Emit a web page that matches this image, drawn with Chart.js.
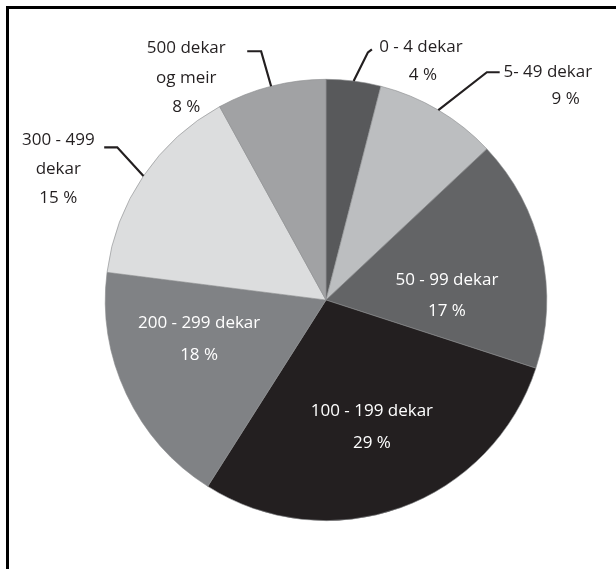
<!DOCTYPE html>
<html>
<head>
<meta charset="utf-8">
<script src="https://cdn.jsdelivr.net/npm/chart.js@4"></script>
<style>
  html, body { margin: 0; padding: 0; background: #fff; }
  #wrap { position: relative; width: 616px; height: 569px; }
  #frame {
    position: absolute; left: 6px; top: 6px; right: 0; bottom: 0;
    border-top: 3px solid #000; border-left: 3px solid #000;
    pointer-events: none;
  }
</style>
</head>
<body>
<div id="wrap">
  <canvas id="pieChart" width="616" height="569"></canvas>
  <div id="frame"></div>
</div>
<script>
const categories = [
  '0 - 4 dekar', '5- 49 dekar', '50 - 99 dekar', '100 - 199 dekar',
  '200 - 299 dekar', ['300 - 499', 'dekar'], ['500 dekar', 'og meir']
];
const shares = [4, 9, 17, 29, 18, 15, 8];
const sliceColors = ['#58595b', '#bcbec0', '#636466', '#231f20', '#808285', '#dcddde', '#a1a2a4'];

// label placement in units of the pie radius, relative to the pie centre
const labelLayout = [
  { inside: false, lines: [[0.430, -1.145], [0.439, -1.018]], leader: [[0.190, -1.122], [0.208, -1.136]] },
  { inside: false, lines: [[1.005, -1.032], [1.086, -0.910]], leader: [[0.729, -1.032], [0.787, -1.032]] },
  { inside: true, lines: [[0.548, -0.090], [0.548, 0.050]] },
  { inside: true, lines: [[0.208, 0.502], [0.208, 0.647]] },
  { inside: true, lines: [[-0.575, 0.104], [-0.575, 0.249]] },
  { inside: false, lines: [[-1.213, -0.724], [-1.213, -0.593], [-1.213, -0.462]], leader: [[-0.946, -0.692], [-1.005, -0.692]] },
  { inside: false, lines: [[-0.633, -1.140], [-0.633, -1.005], [-0.633, -0.873]], leader: [[-0.294, -1.127], [-0.357, -1.127]] }
];

const pieLabels = {
  id: 'pieLabels',
  afterDatasetsDraw(chart) {
    const ctx = chart.ctx;
    const meta = chart.getDatasetMeta(0);
    meta.data.forEach((arc, i) => {
      const p = arc.getProps(['x', 'y', 'startAngle', 'endAngle', 'outerRadius'], true);
      const R = p.outerRadius;
      const mid = (p.startAngle + p.endAngle) / 2;
      const lay = labelLayout[i];
      ctx.save();
      if (lay.leader) {
        ctx.strokeStyle = '#231f20';
        ctx.lineWidth = 2.2;
        ctx.beginPath();
        ctx.moveTo(p.x + Math.cos(mid) * R, p.y + Math.sin(mid) * R);
        lay.leader.forEach(pt => ctx.lineTo(p.x + pt[0] * R, p.y + pt[1] * R));
        ctx.stroke();
      }
      const name = chart.data.labels[i];
      const text = [].concat(name, shares[i] + ' %');
      ctx.fillStyle = lay.inside ? '#ffffff' : '#231f20';
      ctx.font = '17px "Open Sans"';
      ctx.textAlign = 'center';
      ctx.textBaseline = 'middle';
      text.forEach((t, j) => {
        const pos = lay.lines[j];
        ctx.fillText(t, p.x + pos[0] * R, p.y + pos[1] * R);
      });
      ctx.restore();
    });
  }
};

const ctx = document.getElementById('pieChart').getContext('2d');
new Chart(ctx, {
  type: 'pie',
  data: {
    labels: categories,
    datasets: [{
      data: shares,
      backgroundColor: sliceColors,
      borderColor: '#8a8b8d',
      borderWidth: 0.6,
      hoverOffset: 0
    }]
  },
  options: {
    responsive: false,
    animation: false,
    layout: { padding: { top: 79, bottom: 48, left: 105, right: 69 } },
    plugins: {
      legend: { display: false },
      tooltip: { enabled: false }
    }
  },
  plugins: [pieLabels]
});
</script>
</body>
</html>
